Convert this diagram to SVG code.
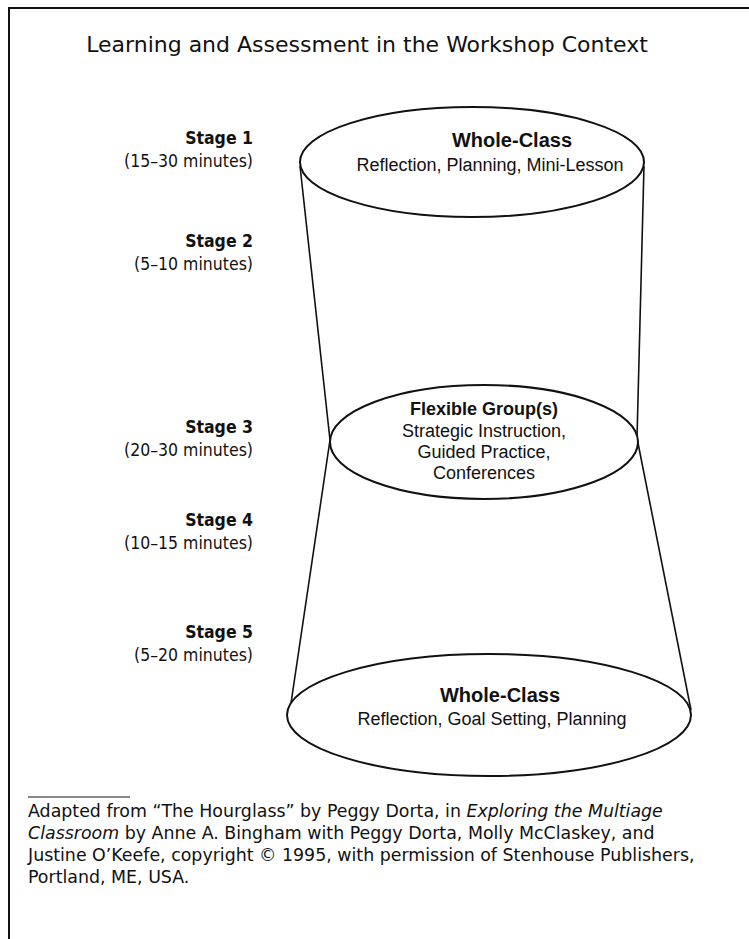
<svg xmlns="http://www.w3.org/2000/svg" width="749" height="939" viewBox="0 0 749 939">
<style>
.frame{stroke:#111;stroke-width:2;fill:none}
.shape{fill:#fff;stroke:#111;stroke-width:2}
.conn{stroke:#111;stroke-width:1.6;fill:none}
.title{font-family:"DejaVu Sans",sans-serif;font-size:22px;fill:#111}
.stage{font-family:"DejaVu Sans Condensed","DejaVu Sans",sans-serif;font-size:17.5px;fill:#111;text-anchor:end}
.stage .b{font-weight:bold}
.nt{font-family:"Liberation Sans",Arial,sans-serif;fill:#111;text-anchor:middle}
.nb{font-weight:bold;font-size:20px}
.nr{font-size:18px}
.foot{font-family:"DejaVu Sans",sans-serif;font-size:17.4px;fill:#111}
</style>
<rect width="749" height="939" fill="#fff"/>
<path class="frame" d="M9,939 V8 H749"/>
<text class="title" x="367" y="52" text-anchor="middle">Learning and Assessment in the Workshop Context</text>

<g id="stage-labels" class="stage">
<text class="b" x="253" y="144">Stage 1</text>
<text x="253" y="167">(15–30 minutes)</text>
<text class="b" x="253" y="247">Stage 2</text>
<text x="253" y="270">(5–10 minutes)</text>
<text class="b" x="253" y="433">Stage 3</text>
<text x="253" y="456">(20–30 minutes)</text>
<text class="b" x="253" y="526">Stage 4</text>
<text x="253" y="549">(10–15 minutes)</text>
<text class="b" x="253" y="638">Stage 5</text>
<text x="253" y="661">(5–20 minutes)</text>
</g>

<g id="connectors">
<line class="conn" x1="300" y1="166" x2="330" y2="440"/>
<line class="conn" x1="644" y1="166" x2="637" y2="438"/>
<line class="conn" x1="330" y1="440" x2="290" y2="710"/>
<line class="conn" x1="637" y1="438" x2="691" y2="710"/>
</g>

<g id="node-top">
<ellipse class="shape" cx="472" cy="162" rx="172" ry="55"/>
<text class="nt nb" x="512" y="147">Whole-Class</text>
<text class="nt nr" x="490" y="171">Reflection, Planning, Mini-Lesson</text>
</g>

<g id="node-middle">
<ellipse class="shape" cx="484" cy="442" rx="154" ry="57"/>
<text class="nt nb" x="484" y="415" style="font-size:18px">Flexible Group(s)</text>
<text class="nt nr" x="484" y="437">Strategic Instruction,</text>
<text class="nt nr" x="484" y="458">Guided Practice,</text>
<text class="nt nr" x="484" y="479">Conferences</text>
</g>

<g id="node-bottom">
<ellipse class="shape" cx="489" cy="715" rx="202" ry="61"/>
<text class="nt nb" x="500" y="702">Whole-Class</text>
<text class="nt nr" x="492" y="725">Reflection, Goal Setting, Planning</text>
</g>

<g id="footnote" class="foot">
<line x1="28" y1="797" x2="130" y2="797" stroke="#111" stroke-width="1.2"/>
<text x="28" y="817">Adapted from “The Hourglass” by Peggy Dorta, in <tspan font-style="italic">Exploring the Multiage</tspan></text>
<text x="28" y="839"><tspan font-style="italic">Classroom</tspan> by Anne A. Bingham with Peggy Dorta, Molly McClaskey, and</text>
<text x="28" y="861">Justine O’Keefe, copyright © 1995, with permission of Stenhouse Publishers,</text>
<text x="28" y="883">Portland, ME, USA.</text>
</g>
</svg>
